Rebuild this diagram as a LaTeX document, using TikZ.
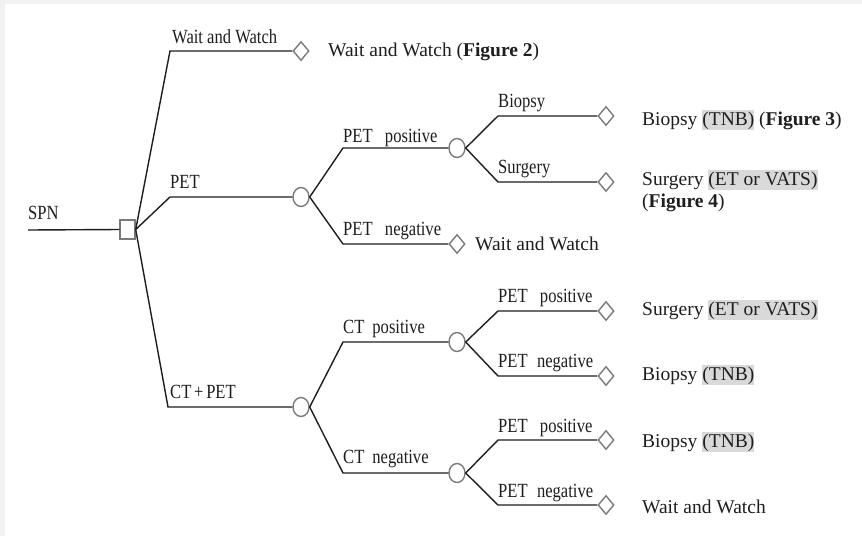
\documentclass[tikz,border=0pt]{standalone}
\usepackage{fontspec}
\setmainfont{Liberation Serif}
\usetikzlibrary{shapes.geometric}
\definecolor{framegray}{HTML}{F2F2F2}
\definecolor{hlgray}{HTML}{D9D9D9}
\definecolor{shapegray}{HTML}{7A7A7A}
\definecolor{linecol}{HTML}{1E1E1E}
\newcommand{\hlbox}[1]{{\setlength{\fboxsep}{0pt}\colorbox{hlgray}{\rule[-4.5pt]{0pt}{19.5pt}#1}}}
\newcommand{\brl}[1]{\scalebox{0.85}[1.03]{#1}}
\begin{document}
\begin{tikzpicture}[x=1pt,y=-1pt,
  branch/.style={draw=linecol, line width=1.4pt},
  decision/.style={rectangle, draw=shapegray, line width=1.4pt, fill=white, minimum width=15pt, minimum height=19pt, inner sep=0pt},
  chance/.style={ellipse, draw=shapegray, line width=1.4pt, fill=white, minimum width=16pt, minimum height=19pt, inner sep=0pt},
  terminal/.style={diamond, draw=shapegray, line width=1.4pt, fill=white, minimum width=16pt, minimum height=19pt, inner sep=0pt},
  blab/.style={font=\fontsize{19.5}{22}\selectfont, anchor=base west, inner sep=0pt, text=linecol},
  otext/.style={font=\fontsize{19.5}{22}\selectfont, anchor=base west, inner sep=0pt, text=linecol}]
\fill[framegray] (0,0) rectangle (862,536);
\fill[white] (5,4) rectangle (862,536);
\useasboundingbox (0,0) rectangle (862,536);

% coordinates
\coordinate (start) at (28,230);
\coordinate (k1) at (170,51);
\coordinate (k2) at (170,197);
\coordinate (k3) at (168,407);
\coordinate (k11) at (343,148);
\coordinate (k12) at (343,244);
\coordinate (k111) at (498,116);
\coordinate (k112) at (498,182);
\coordinate (k21) at (343,342);
\coordinate (k22) at (343,473);
\coordinate (k211) at (498,311);
\coordinate (k212) at (498,376);
\coordinate (k221) at (498,440);
\coordinate (k222) at (498,505);

% shape nodes
\node[decision] (sq) at (127.5,229.5) {};
\node[terminal] (t1) at (301,51) {};
\node[chance] (c1) at (301,197) {};
\node[chance] (c2) at (301,407) {};
\node[chance] (c11) at (457,148) {};
\node[terminal] (t12) at (457,244) {};
\node[terminal] (t111) at (606,116) {};
\node[terminal] (t112) at (606,182) {};
\node[chance] (c21) at (457,342) {};
\node[chance] (c22) at (457,473) {};
\node[terminal] (t211) at (606,311) {};
\node[terminal] (t212) at (606,376) {};
\node[terminal] (t221) at (606,440) {};
\node[terminal] (t222) at (606,505) {};

% connectors
\draw[branch] (start) -- (sq.west);
\draw[branch] (sq.east) -- (k1) -- (t1.west);
\draw[branch] (sq.east) -- (k2) -- (c1.west);
\draw[branch] (sq.east) -- (k3) -- (c2.west);
\draw[branch] (c1.east) -- (k11) -- (c11.west);
\draw[branch] (c1.east) -- (k12) -- (t12.west);
\draw[branch] (c11.east) -- (k111) -- (t111.west);
\draw[branch] (c11.east) -- (k112) -- (t112.west);
\draw[branch] (c2.east) -- (k21) -- (c21.west);
\draw[branch] (c2.east) -- (k22) -- (c22.west);
\draw[branch] (c21.east) -- (k211) -- (t211.west);
\draw[branch] (c21.east) -- (k212) -- (t212.west);
\draw[branch] (c22.east) -- (k221) -- (t221.west);
\draw[branch] (c22.east) -- (k222) -- (t222.west);

% branch labels
\node[blab] (lspn) at (28,219) {\brl{SPN}};
\node[blab] (lww) at (172,43) {\brl{Wait and Watch}};
\node[blab] (lpet) at (170,188) {\brl{PET}};
\node[blab] (lctpet) at (170,398) {\brl{CT\,+\,PET}};
\node[blab] (lpp) at (343,142) {\brl{PET\hspace{14.5pt}positive}};
\node[blab] (lpn) at (343,235) {\brl{PET\hspace{14.5pt}negative}};
\node[blab] (lbio) at (498,107) {\brl{Biopsy}};
\node[blab] (lsur) at (498,173) {\brl{Surgery}};
\node[blab] (lctp) at (343,333) {\brl{CT\hspace{9.5pt}positive}};
\node[blab] (lctn) at (343,463) {\brl{CT\hspace{9.5pt}negative}};
\node[blab] (lpp1) at (498,302) {\brl{PET\hspace{14.5pt}positive}};
\node[blab] (lpn1) at (498,367) {\brl{PET\hspace{11pt}negative}};
\node[blab] (lpp2) at (498,432) {\brl{PET\hspace{14.5pt}positive}};
\node[blab] (lpn2) at (498,497) {\brl{PET\hspace{11pt}negative}};

% outcome texts
\node[otext] (o1) at (328,56) {Wait and Watch (\textbf{Figure 2})};
\node[otext] (o2) at (642,125) {Biopsy \hlbox{(TNB)} (\textbf{Figure 3})};
\node[otext] (o3) at (642,185) {Surgery \hlbox{(ET or VATS)}};
\node[otext] (o3b) at (642,207) {(\textbf{Figure 4})};
\node[otext] (o4) at (475,250) {Wait and Watch};
\node[otext] (o5) at (642,315) {Surgery \hlbox{(ET or VATS)}};
\node[otext] (o6) at (642,380) {Biopsy \hlbox{(TNB)}};
\node[otext] (o7) at (642,447) {Biopsy \hlbox{(TNB)}};
\node[otext] (o8) at (642,513) {Wait and Watch};
\end{tikzpicture}
\end{document}
